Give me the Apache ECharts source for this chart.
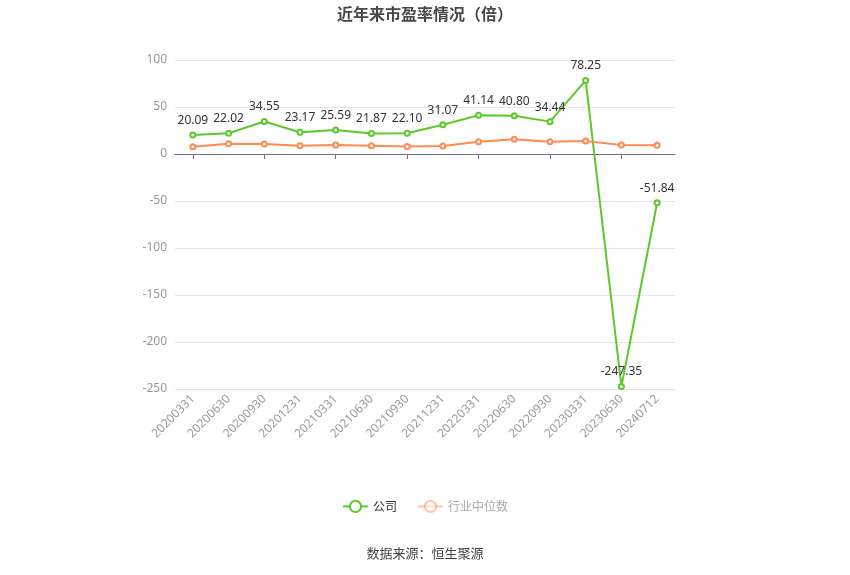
<!DOCTYPE html>
<html>
<head>
<meta charset="utf-8">
<script src="https://cdn.jsdelivr.net/npm/echarts@6/dist/echarts.min.js"></script>
<style>html,body{margin:0;padding:0;background:#fff;}#c{width:850px;height:575px;}</style>
</head>
<body>
<div id="c"></div>
<script>
const categories = ['20200331','20200630','20200930','20201231','20210331','20210630','20210930','20211231','20220331','20220630','20220930','20230331','20230630','20240712'];
const companyPE = [20.09,22.02,34.55,23.17,25.59,21.87,22.10,31.07,41.14,40.80,34.44,78.25,-247.35,-51.84];
const industryPE = [7.7,10.9,10.6,8.8,9.5,8.8,8.1,8.5,13.0,15.8,13.0,13.7,9.5,9.2];
const yTicks = {min:-250, max:100, interval:50};

const chart = echarts.init(document.getElementById('c'));
chart.setOption({
  backgroundColor:'#fff',
  title:{text:'近年来市盈率情况（倍）', left:'center', top:1,
    textStyle:{fontSize:16, fontWeight:'bold', color:'#464646', fontFamily:'Noto Sans CJK SC'}},
  legend:{bottom:57, left:'center', itemWidth:25, itemHeight:14, itemGap:20,
    textStyle:{fontSize:12, color:'#333', fontFamily:'Noto Sans CJK SC'},
    data:[{name:'公司'},
      {name:'行业中位数', textStyle:{color:'#aaa'}, itemStyle:{opacity:0.5}, lineStyle:{opacity:0.5}}]},
  graphic:[{type:'text', left:'center', top:547,
    style:{text:'数据来源：恒生聚源', fontSize:13, fill:'#444', fontFamily:'Noto Sans CJK SC'}}],
  grid:{left:175, right:175, top:60, bottom:186},
  xAxis:[
    {type:'category', data:categories, position:'bottom',
     axisLine:{show:false, onZero:false}, axisTick:{show:false},
     axisLabel:{rotate:45, color:'#999', fontSize:12, interval:0, fontFamily:'Noto Sans'}},
    {type:'category', data:categories, position:'bottom',
     axisLine:{show:true, onZero:true, lineStyle:{color:'#6E7079'}},
     axisTick:{show:true, alignWithLabel:true, lineStyle:{color:'#6E7079'}}, axisLabel:{show:false}}
  ],
  yAxis:{type:'value', min:yTicks.min, max:yTicks.max, interval:yTicks.interval,
    axisLabel:{color:'#999', fontSize:12, fontFamily:'Noto Sans'},
    axisLine:{show:false}, axisTick:{show:false},
    splitLine:{lineStyle:{color:'#E0E6F1'}}},
  series:[
    {name:'公司', type:'line', data:companyPE, xAxisIndex:0,
     symbol:'emptyCircle', symbolSize:5, color:'#5CC92A',
     lineStyle:{width:2, color:'#5CC92A'},
     label:{show:true, position:'top', color:'#333', fontSize:12, fontFamily:'Noto Sans',
       formatter:p=>p.value.toFixed(2)}},
    {name:'行业中位数', type:'line', data:industryPE, xAxisIndex:0,
     symbol:'emptyCircle', symbolSize:5, color:'#FF8B4F',
     lineStyle:{width:2, color:'#FF8B4F'}}
  ]
});
</script>
</body>
</html>
